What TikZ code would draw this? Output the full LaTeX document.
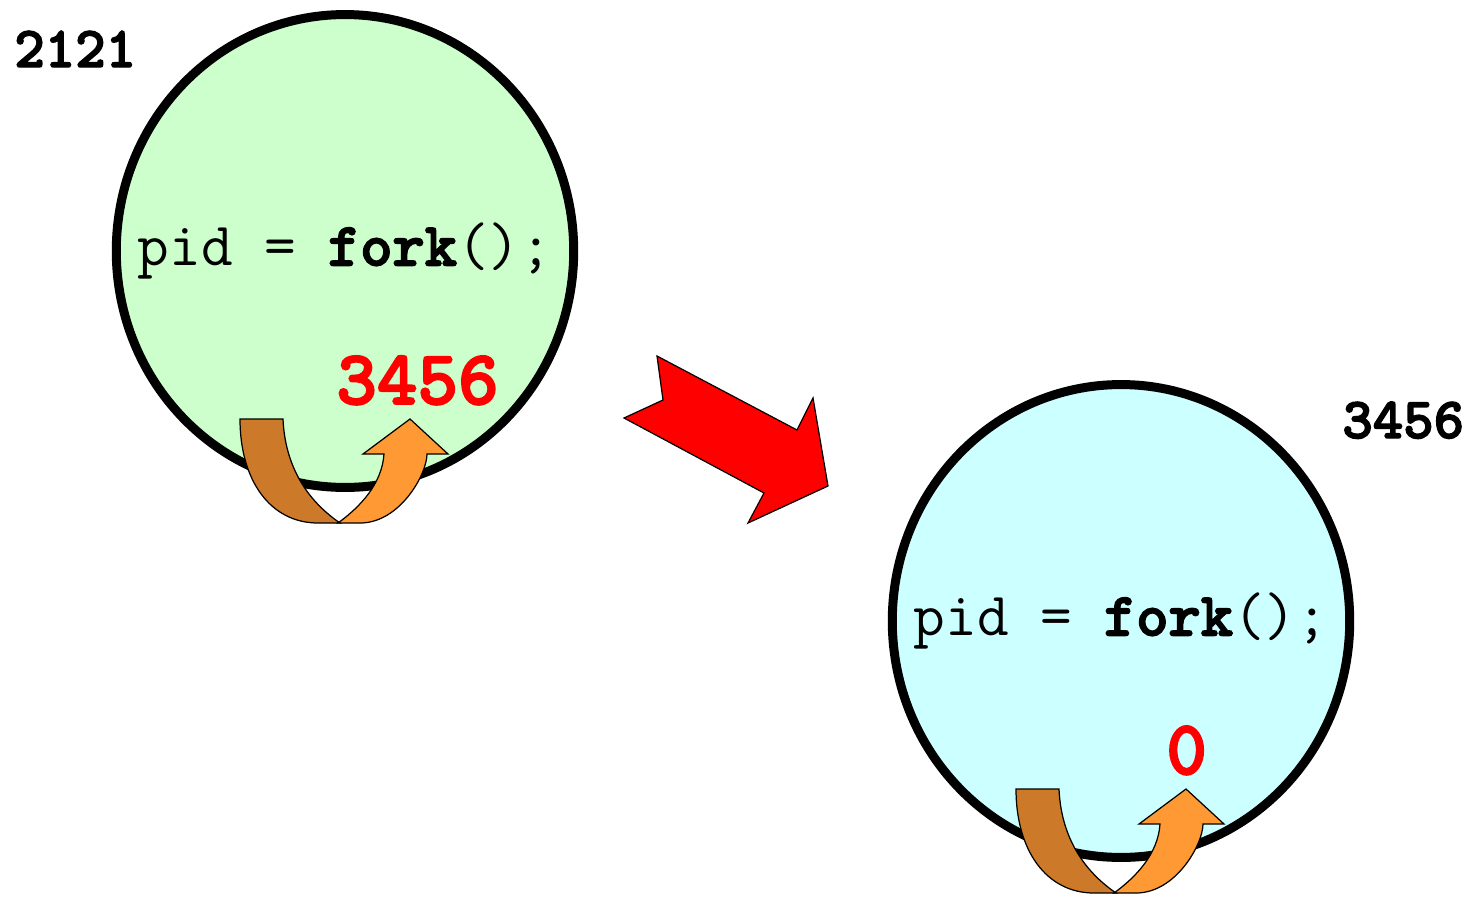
\documentclass[tikz,border=0pt]{standalone}
\usepackage{fontspec}
\newfontfamily\monobold{lmmonolt10-bold.otf}[FakeBold=2.5]
\usepackage{tikz}
\usetikzlibrary{shapes.geometric, positioning}
\usepackage{xcolor}
\definecolor{parentgreen}{RGB}{204,255,204}
\definecolor{childcyan}{RGB}{204,255,255}
\definecolor{turndark}{RGB}{204,122,41}
\definecolor{turnlight}{RGB}{255,153,51}

\begin{document}
\begin{tikzpicture}[x=0.02cm, y=-0.02cm,
	proc/.style={ellipse, draw, line width=0.18cm, minimum width=9.15cm, minimum height=9.46cm, inner sep=0pt},
	code/.style={font=\ttfamily\fontsize{35}{40}\selectfont, inner sep=0pt},
	pidlabel/.style={font=\monobold\fontsize{33}{38}\selectfont, inner sep=0pt, anchor=base west},
	retval/.style={font=\monobold\fontsize{44}{50}\selectfont, text=red, inner sep=0pt, anchor=base west},
	uturn/.pic={
		\draw[fill=turndark, line width=0.7pt] (0,0) -- (43,0) .. controls (45,45) and (65,80) .. (100,104) -- (78,104) .. controls (30,104) and (0,61) .. (0,0) -- cycle;
		\draw[fill=turnlight, line width=0.7pt] (98,104) .. controls (120,88) and (142,65) .. (144,35) -- (123,35) -- (170,0) -- (208,35) -- (187,35) .. controls (187,55) and (160,104) .. (120,104) -- cycle;
	}]
	\useasboundingbox (0,0) rectangle (1467,896);
	% parent process
	\node[proc, fill=parentgreen] (parent) at (345,251) {};
	\node[code] (parentcode) at (parent.center) {pid = {\monobold fork}();};
	\node[pidlabel] (parentpid) at (14,67) {2121};
	\node[retval] (parentret) at (336,404) {3456};
	\pic at (240,419) {uturn};
	% child process
	\node[proc, fill=childcyan] (child) at (1121,621) {};
	\node[code] (childcode) at (child.center) {pid = {\monobold fork}();};
	\node[pidlabel] (childpid) at (1342,438) {3456};
	\node[retval] (childret) at (1166,774) {0};
	\pic at (1016,789) {uturn};
	% fork arrow
	\draw[fill=red, line width=0.7pt] (657,356) -- (663,400) -- (624,418) -- (764,493) -- (748,523) -- (828,486) -- (813,398) -- (797,430) -- cycle;
\end{tikzpicture}
\end{document}
